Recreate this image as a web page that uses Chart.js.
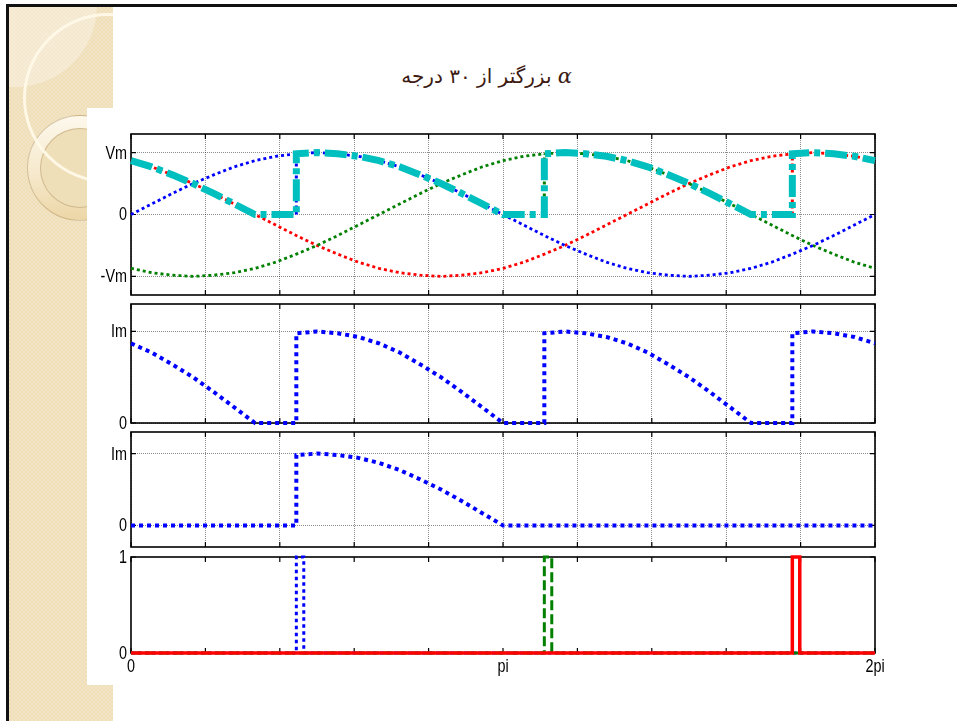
<!DOCTYPE html>
<html>
<head>
<meta charset="utf-8">
<title>یکسوساز سه فاز نیم موج</title>
<script src="https://cdn.jsdelivr.net/npm/chart.js@4.4.1/dist/chart.umd.min.js"></script>
<style>
  html, body { margin: 0; padding: 0; background: #fff; }
  body { position: relative; width: 957px; height: 721px; overflow: hidden; }
  #frameTop { position: absolute; left: 6px; top: 4px; width: 951px; height: 3px; background: #111; }
  #frameLeft { position: absolute; left: 6px; top: 4px; width: 3px; height: 717px; background: #111; }
  #sidebar {
    position: absolute; left: 9px; top: 7px; width: 104px; height: 714px; overflow: hidden;
    background-color: #efdfb9;
    background-image: repeating-conic-gradient(rgba(255,255,255,0.16) 0 25%, transparent 0 50%);
    background-size: 4px 4px;
  }
  .disc { position: absolute; border-radius: 50%; box-sizing: border-box; }
  #glow { left: -76px; top: -84px; width: 164px; height: 164px; background: rgba(255,255,255,0.32); }
  #ringOuter { left: 18px; top: 108px; width: 106px; height: 106px;
    background: linear-gradient(180deg, #fdf8ec 0%, #f6e9cc 55%, #ecd6a6 100%);
    border: 1px solid rgba(170,140,90,0.45); }
  #ringInner { left: 31px; top: 121px; width: 80px; height: 80px; background: #efdfb9;
    border: 1px solid rgba(170,140,90,0.45); }
  #arc { left: 14px; top: 6px; width: 170px; height: 170px; border: 3px solid rgba(255,249,232,0.95); }
  #figure { position: absolute; left: 87px; top: 108px; width: 870px; height: 577px; background: #fff; }
  #title {
    position: absolute; right: 385px; top: 64px; direction: rtl; white-space: nowrap;
    font-family: "DejaVu Sans", sans-serif; font-size: 20px; color: #3d1a12;
  }
  #title i { font-family: "DejaVu Serif", serif; font-size: 21px; }
  canvas.panel { position: absolute; left: 80px; }
</style>
</head>
<body>
<div id="frameTop"></div>
<div id="frameLeft"></div>
<div id="sidebar">
  <div class="disc" id="glow"></div>
  <div class="disc" id="ringOuter"></div>
  <div class="disc" id="ringInner"></div>
  <div class="disc" id="arc"></div>
</div>
<div id="figure"></div>
<div id="title"><i>α</i> بزرگتر از ۳۰ درجه</div>

<canvas class="panel" id="pVoltage"></canvas>
<canvas class="panel" id="pLoad"></canvas>
<canvas class="panel" id="pPhaseA"></canvas>
<canvas class="panel" id="pGate"></canvas>

<script>
// ωt in degrees, one full supply period
const angles = [0,10,20,30,40,50,60,70,80,90,100,110,120,130,140,150,160,170,180,
                190,200,210,220,230,240,250,260,270,280,290,300,310,320,330,340,350,360];

// phase voltages, per unit of Vm
const vA = [0,0.17,0.34,0.5,0.64,0.77,0.87,0.94,0.98,1,0.98,0.94,0.87,0.77,0.64,0.5,0.34,0.17,0,
            -0.17,-0.34,-0.5,-0.64,-0.77,-0.87,-0.94,-0.98,-1,-0.98,-0.94,-0.87,-0.77,-0.64,-0.5,-0.34,-0.17,0];
const vB = [-0.87,-0.94,-0.98,-1,-0.98,-0.94,-0.87,-0.77,-0.64,-0.5,-0.34,-0.17,0,0.17,0.34,0.5,0.64,0.77,0.87,
            0.94,0.98,1,0.98,0.94,0.87,0.77,0.64,0.5,0.34,0.17,0,-0.17,-0.34,-0.5,-0.64,-0.77,-0.87];
const vC = [0.87,0.77,0.64,0.5,0.34,0.17,0,-0.17,-0.34,-0.5,-0.64,-0.77,-0.87,-0.94,-0.98,-1,-0.98,-0.94,-0.87,
            -0.77,-0.64,-0.5,-0.34,-0.17,0,0.17,0.34,0.5,0.64,0.77,0.87,0.94,0.98,1,0.98,0.94,0.87];

// rectifier output (resistive load), thyristors fired at 80°, 200°, 320°
const outAngles = [0,10,20,30,40,50,60,
                   80,80,90,100,110,120,130,140,150,160,170,180,
                   200,200,210,220,230,240,250,260,270,280,290,300,
                   320,320,330,340,350,360];
const vOut = [0.87,0.77,0.64,0.5,0.34,0.17,0,
              0,0.98,1,0.98,0.94,0.87,0.77,0.64,0.5,0.34,0.17,0,
              0,0.98,1,0.98,0.94,0.87,0.77,0.64,0.5,0.34,0.17,0,
              0,0.98,1,0.98,0.94,0.87];
// load current, per unit of Im
const iLoad = [0.87,0.77,0.64,0.5,0.34,0.17,0,
               0,0.98,1,0.98,0.94,0.87,0.77,0.64,0.5,0.34,0.17,0,
               0,0.98,1,0.98,0.94,0.87,0.77,0.64,0.5,0.34,0.17,0,
               0,0.98,1,0.98,0.94,0.87];

// thyristor T1 (phase a) current
const iaAngles = [0,80,80,90,100,110,120,130,140,150,160,170,180,360];
const iA = [0,0,0.98,1,0.98,0.94,0.87,0.77,0.64,0.5,0.34,0.17,0,0];

// firing instants and the level each phase has when it takes over
const fireAngles = [80, 200, 320];
const fireLevel = [0.98, 0.98, 0.98];

// gate pulses
const gateAngles = [[0,80,80,83.6,83.6,360], [0,200,200,203.6,203.6,360], [0,320,320,323.6,323.6,360]];
const gateLevels = [0,0,1,1,0,0];

// axis ticks
const xTicks = [0,36,72,108,144,180,216,252,288,324,360];
const xTickLabels = {0: '0', 180: 'pi', 360: '2pi'};
const vTicks = [-1, 0, 1];
const vTickLabels = ['-Vm', '0', 'Vm'];
const iTicks = [0, 1];
const iTickLabels = ['0', 'Im'];
const gTicks = [0, 1];
const gTickLabels = ['0', '1'];

const BLUE = '#0000ff', RED = '#ff0000', GREEN = '#008000', CYAN = '#00bfbf';
const FONT = { family: '"Liberation Sans", Arial, sans-serif', size: 18 };
const SQUEEZE = 0.8;   // narrow glyphs for the axis numbering
const GRID = 'rgba(0,0,0,0.45)';

const pts = (xs, ys) => xs.map((x, i) => ({ x, y: ys[i] }));

// MATLAB style box: full frame plus inward ticks on all four sides (under the data)
const boxPlugin = {
  id: 'boxFrame',
  beforeDatasetsDraw(chart) {
    const { ctx, chartArea: a, scales: { x, y } } = chart;
    const len = 5;
    ctx.save();
    ctx.strokeStyle = '#000';
    ctx.lineWidth = 1.2;
    ctx.beginPath();
    x.ticks.forEach(t => {
      const px = x.getPixelForValue(t.value);
      ctx.moveTo(px, a.top); ctx.lineTo(px, a.top + len);
      ctx.moveTo(px, a.bottom); ctx.lineTo(px, a.bottom - len);
    });
    y.ticks.forEach(t => {
      const py = y.getPixelForValue(t.value);
      ctx.moveTo(a.left, py); ctx.lineTo(a.left + len, py);
      ctx.moveTo(a.right, py); ctx.lineTo(a.right - len, py);
    });
    ctx.stroke();
    ctx.lineWidth = 1.6;
    ctx.strokeRect(a.left, a.top, a.right - a.left, a.bottom - a.top);
    ctx.restore();
  }
};

// tick labels in a horizontally condensed face
const labelPlugin = {
  id: 'narrowLabels',
  afterDraw(chart, args, opts) {
    const { ctx, chartArea: a, scales: { x, y } } = chart;
    ctx.save();
    ctx.font = `${FONT.size}px ${FONT.family}`;
    ctx.fillStyle = '#000';
    const put = (text, px, py) => {
      ctx.save(); ctx.translate(px, py); ctx.scale(SQUEEZE, 1); ctx.fillText(text, 0, 0); ctx.restore();
    };
    ctx.textAlign = 'right'; ctx.textBaseline = 'middle';
    y.ticks.forEach(t => { if (t.label) put(t.label, a.left - 4, y.getPixelForValue(t.value) + 1); });
    if (opts.showX) {
      ctx.textAlign = 'center'; ctx.textBaseline = 'top';
      x.ticks.forEach(t => { if (t.label) put(t.label, x.getPixelForValue(t.value), a.bottom + 5); });
    }
    ctx.restore();
  }
};

function line(data, color, width, dash, order) {
  return { data, borderColor: color, borderWidth: width, borderDash: dash, order, clip: 4,
           pointRadius: 0, tension: 0, fill: false, borderCapStyle: 'butt', borderJoinStyle: 'miter' };
}

function panel(id, top, bottom, datasets, yMin, yMax, yTicks, yLabels, showGrid, showX) {
  const padTop = 12, padBottom = showX ? 6 : 12, xH = showX ? 24 : 0;
  const W = 820, H = (bottom - top) + padTop + padBottom + xH;
  const cv = document.getElementById(id);
  cv.width = W; cv.height = H;
  cv.style.top = (top - padTop) + 'px';
  return new Chart(cv, {
    type: 'line',
    data: { datasets },
    plugins: [boxPlugin, labelPlugin],
    options: {
      responsive: false, animation: false, events: [],
      layout: { padding: { left: 7, right: 25, top: padTop, bottom: padBottom } },
      plugins: { legend: { display: false }, tooltip: { enabled: false }, narrowLabels: { showX } },
      scales: {
        x: {
          type: 'linear', min: 0, max: 360,
          afterBuildTicks: s => { s.ticks = xTicks.map(v => ({ value: v })); },
          afterFit: s => { s.height = xH; s.paddingLeft = 0; s.paddingRight = 0; },
          ticks: { display: false, autoSkip: false, maxRotation: 0, font: FONT,
                   callback: v => xTickLabels[v] ?? '' },
          grid: { display: showGrid, color: GRID, lineWidth: 1, drawTicks: false },
          border: { display: false, dash: [1, 1] }
        },
        y: {
          type: 'linear', min: yMin, max: yMax,
          afterBuildTicks: s => { s.ticks = yTicks.map(v => ({ value: v })); },
          afterFit: s => { s.width = 44; s.paddingTop = 0; s.paddingBottom = 0; },
          ticks: { display: false, autoSkip: false, font: FONT,
                   callback: (v, i) => yLabels[i] },
          grid: { display: showGrid, color: GRID, lineWidth: 1, drawTicks: false },
          border: { display: false, dash: [1, 1] }
        }
      }
    }
  });
}

// phase voltages and rectified output voltage
const edgeColors = [BLUE, GREEN, RED];
panel('pVoltage', 134, 295, [
  line(pts(outAngles, vOut), CYAN, 7, [22, 5, 6, 5], 0),
  ...fireAngles.map((a, k) => line(pts([a, a], [0, fireLevel[k]]), edgeColors[k], 3, [3, 3], 1)),
  line(pts(angles, vA), BLUE, 2.8, [3, 3], 2),
  line(pts(angles, vB), GREEN, 2.8, [3, 3], 3),
  line(pts(angles, vC), RED, 2.8, [3, 3], 4)
], -1.3, 1.3, vTicks, vTickLabels, true, false);

// load current
panel('pLoad', 304, 423, [
  line(pts(outAngles, iLoad), BLUE, 4, [4, 4], 0)
], 0, 1.3, iTicks, iTickLabels, true, false);

// phase a thyristor current
panel('pPhaseA', 432, 547, [
  line(pts(iaAngles, iA), BLUE, 4, [4, 4], 0)
], -0.3, 1.3, iTicks, iTickLabels, true, false);

// gate signals
panel('pGate', 557, 653, [
  line(pts(gateAngles[2], gateLevels), RED, 3.5, [], 0),
  line(pts(gateAngles[1], gateLevels), GREEN, 3, [10, 4], 1),
  line(pts(gateAngles[0], gateLevels), BLUE, 3, [3.5, 3.5], 2)
], 0, 1, gTicks, gTickLabels, false, true);
</script>
</body>
</html>
